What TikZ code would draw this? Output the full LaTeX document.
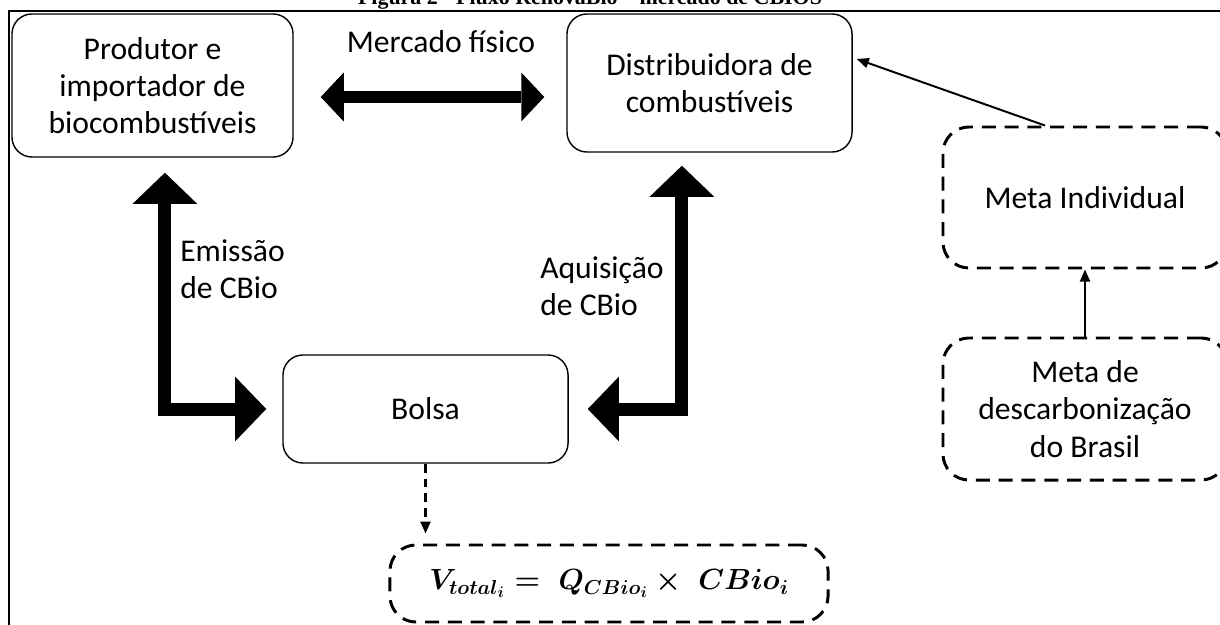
\documentclass[tikz,border=0pt]{standalone}
\usepackage{fontspec}
\setmainfont{Carlito}
\newfontfamily\titlefont{Liberation Serif}
\usepackage{tikz}
\usetikzlibrary{arrows.meta, positioning, calc}

\begin{document}
\begin{tikzpicture}[x=0.025cm, y=-0.025cm,
    box/.style={draw, line width=1pt, rounded corners=0.5cm, inner sep=0pt, align=center, font=\fontsize{22.5}{26.5}\selectfont},
    metabox/.style={box, line width=2.1pt, dash pattern=on 0.35cm off 0.22cm, rounded corners=0.65cm},
    lbl/.style={align=left, inner sep=0pt, font=\fontsize{22.5}{26.5}\selectfont},
    fatarrow/.style={line width=0.325cm, arrows={Triangle[length=0.78cm, width=1.62cm, line width=0pt]-Triangle[length=0.78cm, width=1.62cm, line width=0pt]}},
    dblarrow/.style={line width=0.29cm, arrows={Triangle[length=0.575cm, width=1.225cm, line width=0pt]-Triangle[length=0.575cm, width=1.225cm, line width=0pt]}},
    thinarrow/.style={line width=1.4pt, -{Triangle[length=0.3cm, width=0.25cm]}},
    dasharrow/.style={thinarrow, line width=1.6pt, dash pattern=on 0.22cm off 0.15cm}
]
    \useasboundingbox (0,0) rectangle (1220,624);
    \clip (0,0) rectangle (1220,624);

    % caption line, cut off at the top
    \node[anchor=base, inner sep=0pt, font=\titlefont\bfseries\fontsize{15.6}{18}\selectfont] (title) at (590,5) {Figura 2 - Fluxo RenovaBio – mercado de CBIOS};
    \draw[line width=1.8pt] (9,700) -- (9,11) -- (1300,11);

    \node[box, minimum width=7.025cm, minimum height=3.575cm] (prod) at (152.5,85.5) {Produtor e\\importador de\\biocombustíveis};
    \node[box, minimum width=7.125cm, minimum height=3.45cm] (dist) at (709.5,83) {Distribuidora de\\combustíveis};
    \node[box, minimum width=7.125cm, minimum height=2.7cm] (bolsa) at (425.5,409) {Bolsa};
    \node[metabox, minimum width=10.95cm, minimum height=1.925cm, font=\fontsize{21}{25}\selectfont\boldmath] (vtotal) at (609,583.5) {$V_{total_i} = \; Q_{CBio_i} \times \; CBio_i$};

    \node[metabox, minimum width=7.1cm, minimum height=3.525cm] (indiv) at (1085,197.5) {Meta Individual};
    \node[metabox, minimum width=7.1cm, minimum height=3.55cm] (desc) at (1085,409) {Meta de\\descarbonização\\do Brasil};

    \node[lbl] (mf) at (441,42) {Mercado físico};
    \node[lbl, anchor=west] (emis) at (180,269) {Emissão\\de CBio};
    \node[lbl, anchor=west] (aquis) at (540,286) {Aquisição\\de CBio};

    \coordinate (mfline) at (0,97);
    \draw[dblarrow, shorten <=0.675cm, shorten >=0.55cm] (prod.east |- mfline) -- (dist.west |- mfline);
    \draw[fatarrow, shorten <=0.375cm, shorten >=0.4cm] ([xshift=0.31cm]prod.south) |- (bolsa.west);
    \draw[fatarrow, shorten <=0.325cm, shorten >=0.475cm] ([xshift=-0.69cm]dist.south) |- (bolsa.east);

    \draw[dasharrow, shorten >=0.25cm] (bolsa.south) -- (bolsa.south |- vtotal.north);
    \draw[thinarrow] (desc.north) -- (indiv.south);
    \draw[thinarrow] ([xshift=-1cm]indiv.north) -- ([shift={(0.1cm,0.6cm)}]dist.east);
\end{tikzpicture}
\end{document}
